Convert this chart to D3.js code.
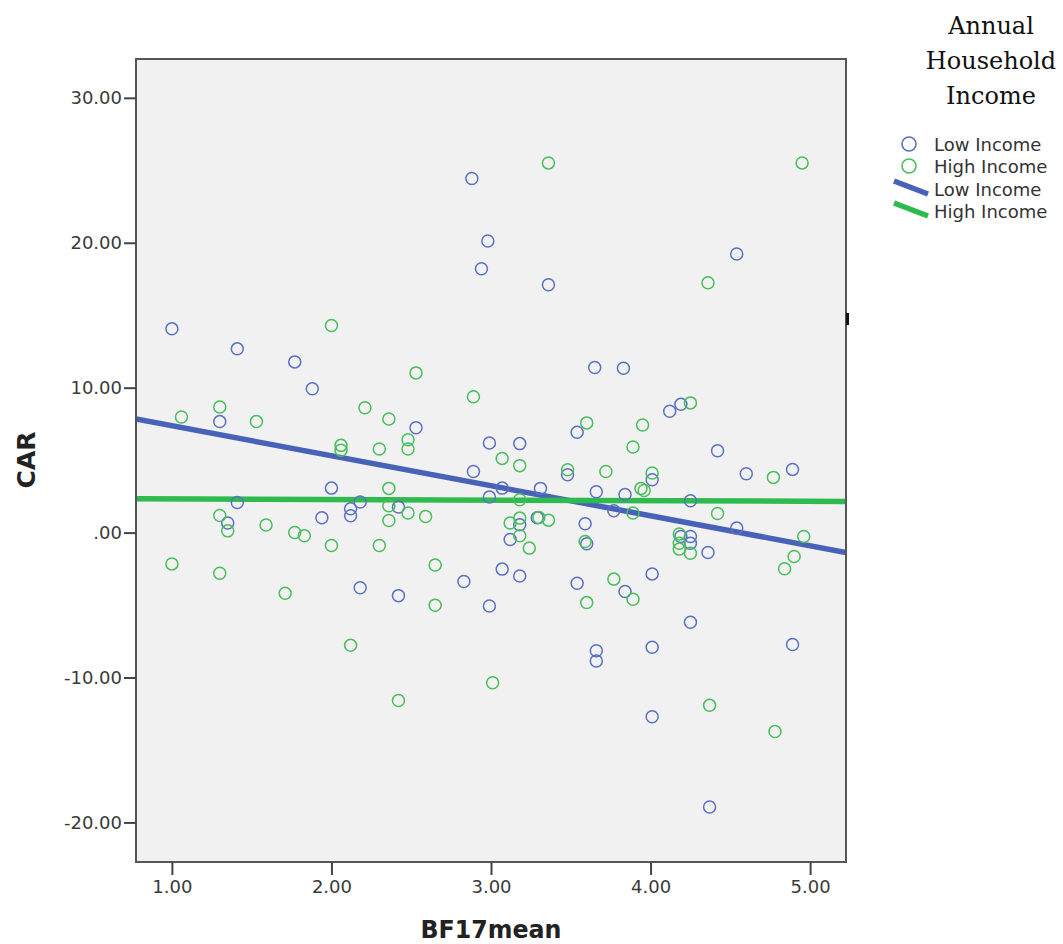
<!DOCTYPE html>
<html>
<head>
<meta charset="utf-8">
<script src="https://cdn.jsdelivr.net/npm/d3@7"></script>
<style>
  html, body { margin: 0; padding: 0; background: #fff; }
  svg { display: block; }
</style>
</head>
<body>
<svg id="chart" width="1063" height="944"></svg>
<script>
// ---- data ----
const xTicks = [1, 2, 3, 4, 5];
const yTicks = [-20, -10, 0, 10, 20, 30];
const seriesNames = ["Low Income", "High Income"];
const legendTitle = ["Annual", "Household", "Income"];
const xLabel = "BF17mean";
const yLabel = "CAR";

const lowIncome = [
  [2.88, 24.43], [2.98, 20.12], [2.94, 18.21], [1.00, 14.06], [1.41, 12.68],
  [1.77, 11.78], [1.88, 9.92], [1.30, 7.66], [2.53, 7.24], [3.36, 17.10],
  [4.54, 19.22], [3.65, 11.39], [3.83, 11.34], [4.12, 8.37], [4.19, 8.85],
  [3.54, 6.92], [2.99, 6.18], [2.89, 4.22], [2.00, 3.07], [2.99, 2.45],
  [1.41, 2.08], [2.18, 2.11], [2.42, 1.76], [2.12, 1.64], [2.12, 1.16],
  [1.94, 1.02], [1.35, 0.66], [2.18, -3.81], [2.42, -4.35], [2.83, -3.38],
  [2.99, -5.06], [3.18, 6.14], [3.48, 3.99], [4.01, 3.65], [4.42, 5.65],
  [4.60, 4.06], [4.89, 4.36], [3.07, 3.07], [3.31, 3.05], [3.66, 2.82],
  [3.84, 2.63], [4.25, 2.20], [3.77, 1.51], [3.18, 0.54], [3.12, -0.48],
  [3.29, 1.02], [3.59, 0.61], [3.60, -0.77], [4.19, -0.27], [4.25, -0.27],
  [4.25, -0.73], [4.36, -1.37], [4.54, 0.31], [3.07, -2.52], [3.18, -2.99],
  [3.54, -3.49], [3.84, -4.07], [4.01, -2.85], [4.25, -6.19], [3.66, -8.15],
  [3.66, -8.86], [4.01, -7.91], [4.89, -7.72], [4.01, -12.71], [4.37, -18.93]
];
const highIncome = [
  [3.36, 25.51], [4.95, 25.51], [4.36, 17.24], [2.00, 14.29], [2.53, 11.02],
  [2.89, 9.38], [1.06, 7.98], [1.30, 8.67], [1.53, 7.66], [2.21, 8.62],
  [2.36, 7.84], [3.60, 7.57], [3.95, 7.43], [4.25, 8.95], [2.06, 6.02],
  [2.06, 5.68], [2.30, 5.77], [2.48, 6.41], [2.48, 5.77], [3.07, 5.12],
  [3.18, 4.62], [3.89, 5.91], [4.77, 3.81], [3.48, 4.34], [3.72, 4.22],
  [4.01, 4.11], [3.94, 3.05], [3.96, 2.90], [2.36, 3.05], [3.18, 2.27],
  [2.36, 1.85], [2.48, 1.35], [2.59, 1.11], [2.36, 0.84], [1.30, 1.18],
  [1.35, 0.12], [1.59, 0.52], [1.77, 0.01], [1.83, -0.22], [2.00, -0.89],
  [2.30, -0.89], [1.00, -2.16], [1.30, -2.80], [1.71, -4.18], [2.65, -2.23],
  [2.65, -5.01], [2.12, -7.78], [3.89, 1.35], [4.42, 1.32], [3.12, 0.66],
  [3.18, 1.00], [3.18, -0.22], [3.24, -1.07], [3.30, 1.04], [3.36, 0.86],
  [3.59, -0.61], [4.18, -0.10], [4.18, -0.73], [4.18, -1.14], [4.25, -1.42],
  [4.96, -0.27], [4.90, -1.65], [4.84, -2.50], [3.77, -3.21], [3.89, -4.60],
  [3.60, -4.83], [2.42, -11.58], [3.01, -10.36], [4.37, -11.92], [4.78, -13.72]
];
// fit lines (values at the ends of the x range)
const lowFit = [[0.775, 7.84], [5.225, -1.375]];
const highFit = [[0.775, 2.34], [5.225, 2.15]];

// ---- layout ----
const svg = d3.select("#chart");
const L = 136, R = 846, T = 59, B = 862;
const x = d3.scaleLinear().domain([0.775, 5.225]).range([L, R]);
const y = d3.scaleLinear().domain([-22.73, 32.68]).range([B, T]);

const colors = {
  lowPt: "#5a70c2", highPt: "#47bf5a",
  lowLine: "#4862b8", highLine: "#2fba4f"
};

svg.append("rect").attr("x", L).attr("y", T).attr("width", R - L).attr("height", B - T)
  .attr("fill", "#f1f1f1");

svg.append("clipPath").attr("id", "clip").append("rect")
  .attr("x", L).attr("y", T).attr("width", R - L).attr("height", B - T);

const plot = svg.append("g").attr("clip-path", "url(#clip)");
const line = d3.line().x(d => x(d[0])).y(d => y(d[1]));

plot.append("path").datum(lowFit).attr("d", line)
  .attr("stroke", colors.lowLine).attr("stroke-width", 5.5).attr("fill", "none");
plot.append("path").datum(highFit).attr("d", line)
  .attr("stroke", colors.highLine).attr("stroke-width", 5.5).attr("fill", "none");

plot.selectAll("circle.low").data(lowIncome).join("circle").attr("class", "low")
  .attr("cx", d => x(d[0])).attr("cy", d => y(d[1])).attr("r", 6)
  .attr("fill", "none").attr("stroke", colors.lowPt).attr("stroke-width", 1.5);
plot.selectAll("circle.high").data(highIncome).join("circle").attr("class", "high")
  .attr("cx", d => x(d[0])).attr("cy", d => y(d[1])).attr("r", 6)
  .attr("fill", "none").attr("stroke", colors.highPt).attr("stroke-width", 1.5);

// border
svg.append("rect").attr("x", L).attr("y", T).attr("width", R - L).attr("height", B - T)
  .attr("fill", "none").attr("stroke", "#555").attr("stroke-width", 2);
svg.append("rect").attr("x", R).attr("y", 313).attr("width", 3).attr("height", 12).attr("fill", "#111");

// axes
const fmt2 = d => d3.format(".2f")(d).replace("\u2212", "-");
const fmt = d => d === 0 ? ".00" : fmt2(d);
const yAxis = svg.append("g").attr("transform", `translate(${L},0)`)
  .call(d3.axisLeft(y).tickValues(yTicks).tickFormat(fmt).tickSize(12).tickPadding(2));
const xAxis = svg.append("g").attr("transform", `translate(0,${B})`)
  .call(d3.axisBottom(x).tickValues(xTicks).tickFormat(fmt2).tickSize(13).tickPadding(5));
[yAxis, xAxis].forEach(g => {
  g.select(".domain").remove();
  g.selectAll(".tick line").attr("stroke", "#444").attr("stroke-width", 2);
  g.selectAll(".tick text").attr("fill", "#3a3a3a")
    .style("font-family", "'DejaVu Sans', sans-serif").style("font-size", "18px");
});

// axis titles
svg.append("text").attr("x", 491).attr("y", 938).attr("text-anchor", "middle")
  .attr("textLength", 141).attr("lengthAdjust", "spacingAndGlyphs")
  .style("font-family", "'DejaVu Sans', sans-serif").style("font-weight", "bold").style("font-size", "25px")
  .attr("fill", "#222").text(xLabel);
svg.append("text").attr("transform", "translate(35,460) rotate(-90)").attr("text-anchor", "middle")
  .style("font-family", "'DejaVu Sans', sans-serif").style("font-weight", "bold").style("font-size", "25px")
  .attr("fill", "#222").text(yLabel);

// legend
const lg = svg.append("g");
lg.selectAll("text.title").data(legendTitle).join("text").attr("class", "title")
  .attr("x", 991).attr("y", (d, i) => 34 + i * 35).attr("text-anchor", "middle")
  .style("font-family", "'DejaVu Serif', serif").style("font-size", "24px").attr("fill", "#111")
  .text(d => d);

const legItems = [
  { type: "circle", color: colors.lowPt, label: seriesNames[0] },
  { type: "circle", color: colors.highPt, label: seriesNames[1] },
  { type: "line", color: colors.lowLine, label: seriesNames[0] },
  { type: "line", color: colors.highLine, label: seriesNames[1] }
];
const rowY = [144, 166, 189, 211];
legItems.forEach((it, i) => {
  const cy = rowY[i];
  if (it.type === "circle") {
    lg.append("circle").attr("cx", 909).attr("cy", cy).attr("r", 7)
      .attr("fill", "none").attr("stroke", it.color).attr("stroke-width", 1.6);
  } else {
    lg.append("line").attr("x1", 894).attr("y1", cy - 8).attr("x2", 928).attr("y2", cy + 5)
      .attr("stroke", it.color).attr("stroke-width", 5.5);
  }
  lg.append("text").attr("x", 934).attr("y", cy + 7)
    .style("font-family", "'DejaVu Sans', sans-serif").style("font-size", "18px").attr("fill", "#333")
    .text(it.label);
});
</script>
</body>
</html>
